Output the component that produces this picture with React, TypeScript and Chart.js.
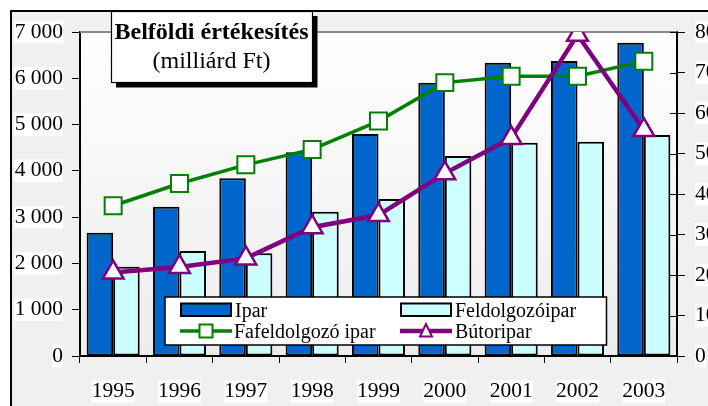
import { useEffect, useRef } from 'react';
import { Chart, registerables } from 'chart.js';

Chart.register(...registerables);

const years = ['1995', '1996', '1997', '1998', '1999', '2000', '2001', '2002', '2003'];
const iparValues = [2664, 3225, 3839, 4400, 4796, 5904, 6336, 6373, 6768];
const feldolgozoValues = [1929, 2268, 2219, 3117, 3392, 4321, 4608, 4629, 4774];
const fafeldolgozoValues = [37.1, 42.6, 47.2, 51.0, 58.0, 67.5, 69.1, 69.1, 72.8];
const butorValues = [20.6, 22.0, 24.1, 31.8, 34.8, 45.1, 53.8, 79.3, 55.8];
const leftTickLabels = ['0', '1 000', '2 000', '3 000', '4 000', '5 000', '6 000', '7 000'];
const rightTickLabels = ['0', '10', '20', '30', '40', '50', '60', '70', '80'];
const titleLines = ['Belföldi értékesítés', '(milliárd Ft)'];
const seriesLabels = ['Ipar', 'Feldolgozóipar', 'Fafeldolgozó ipar', 'Bútoripar'];

const FONT = "'Liberation Serif', 'Times New Roman', serif";

const decorPlugin = {
  id: 'decor',
  beforeDraw(chart: any) {
    const ctx = chart.ctx;
    const w = chart.width;
    const h = chart.height;
    const { left, top, right, bottom } = chart.chartArea;
    ctx.save();
    ctx.fillStyle = '#ffffff';
    ctx.fillRect(0, 0, w, h);
    ctx.fillStyle = '#f0f0f0';
    ctx.fillRect(11, 11, w, h);
    const grad = ctx.createLinearGradient(0, top, 0, bottom);
    grad.addColorStop(0, '#ffffff');
    grad.addColorStop(1, '#ececec');
    ctx.fillStyle = grad;
    ctx.fillRect(left, top, right - left, bottom - top);
    ctx.strokeStyle = '#000';
    ctx.lineWidth = 2;
    ctx.beginPath();
    ctx.moveTo(11, h);
    ctx.lineTo(11, 11);
    ctx.lineTo(w, 11);
    ctx.stroke();
    ctx.restore();
  },
  beforeDatasetsDraw(chart: any) {
    const ctx = chart.ctx;
    const { left, top, right } = chart.chartArea;
    ctx.save();
    ctx.strokeStyle = '#8a8a8a';
    ctx.lineWidth = 2;
    ctx.beginPath();
    ctx.moveTo(left, top);
    ctx.lineTo(right, top);
    ctx.stroke();
    // inner half of the crossing ticks on the right axis
    const s = chart.scales.y1;
    ctx.strokeStyle = '#000';
    ctx.lineWidth = 1;
    s.ticks.forEach((t: any) => {
      const y = Math.round(s.getPixelForValue(t.value)) + 0.5;
      ctx.beginPath();
      ctx.moveTo(right - 7, y);
      ctx.lineTo(right, y);
      ctx.stroke();
    });
    ctx.restore();
  },
  afterDraw(chart: any) {
    const ctx = chart.ctx;
    const ds = chart.data.datasets;
    ctx.save();
    // title box
    ctx.fillStyle = '#000';
    ctx.fillRect(116, 16, 201.5, 71.5);
    ctx.fillStyle = '#fff';
    ctx.fillRect(111, 11, 201.5, 71.5);
    ctx.strokeStyle = '#000';
    ctx.lineWidth = 1.2;
    ctx.strokeRect(111.5, 11.5, 201, 71);
    ctx.fillStyle = '#000';
    ctx.textAlign = 'center';
    ctx.textBaseline = 'alphabetic';
    ctx.font = `bold 24px ${FONT}`;
    ctx.fillText(titleLines[0], 211.5, 38.5);
    ctx.font = `24px ${FONT}`;
    ctx.fillText(titleLines[1], 211.5, 67.5);

    // legend
    ctx.fillStyle = '#fff';
    ctx.fillRect(165, 297, 441.5, 48);
    ctx.strokeStyle = '#000';
    ctx.lineWidth = 1.5;
    ctx.strokeRect(165, 297, 441.5, 48);
    ctx.font = `20px ${FONT}`;
    ctx.textAlign = 'left';
    const barSample = (d: any, x: number) => {
      ctx.fillStyle = d.backgroundColor;
      ctx.fillRect(x, 303.5, 50, 12.5);
      ctx.strokeStyle = d.borderColor;
      ctx.lineWidth = 2;
      ctx.strokeRect(x, 303.5, 50, 12.5);
      ctx.fillStyle = '#000';
      ctx.fillText(d.label, x + 54, 316.5);
    };
    barSample(ds[0], 181);
    barSample(ds[1], 401);
    const yL = 331;
    const f = ds[2];
    ctx.strokeStyle = f.borderColor;
    ctx.lineWidth = f.borderWidth;
    ctx.beginPath();
    ctx.moveTo(180, yL);
    ctx.lineTo(232, yL);
    ctx.stroke();
    ctx.fillStyle = '#fff';
    ctx.fillRect(199.5, yL - 6.5, 13, 13);
    ctx.lineWidth = 2;
    ctx.strokeRect(199.5, yL - 6.5, 13, 13);
    ctx.fillStyle = '#000';
    ctx.fillText(f.label, 234, 337.7);

    const b = ds[3];
    ctx.strokeStyle = b.borderColor;
    ctx.lineWidth = b.borderWidth;
    ctx.beginPath();
    ctx.moveTo(400, yL);
    ctx.lineTo(452, yL);
    ctx.stroke();
    ctx.fillStyle = '#fff';
    ctx.lineWidth = 2;
    ctx.beginPath();
    ctx.moveTo(426, 324);
    ctx.lineTo(432, 336.5);
    ctx.lineTo(420, 336.5);
    ctx.closePath();
    ctx.fill();
    ctx.stroke();
    ctx.fillStyle = '#000';
    ctx.fillText(b.label, 455, 337.7);
    ctx.restore();
  },
};

export default function App() {
  const ref = useRef<HTMLCanvasElement>(null);
  useEffect(() => {
    if (!ref.current) return;
    const tickFont = { family: FONT, size: 21.5, lineHeight: 1.05 };
    const chart = new Chart(ref.current, {
      type: 'bar',
      data: {
        labels: years,
        datasets: [
          {
            type: 'bar',
            label: seriesLabels[0],
            data: iparValues,
            backgroundColor: '#0066cc',
            borderColor: '#000000',
            borderWidth: 2,
            borderSkipped: false,
            yAxisID: 'y',
            order: 3,
            categoryPercentage: 0.8,
            barPercentage: 1.0,
          },
          {
            type: 'bar',
            label: seriesLabels[1],
            data: feldolgozoValues,
            backgroundColor: '#ccffff',
            borderColor: '#000000',
            borderWidth: 2,
            borderSkipped: false,
            yAxisID: 'y',
            order: 3,
            categoryPercentage: 0.8,
            barPercentage: 1.0,
          },
          {
            type: 'line',
            label: seriesLabels[2],
            data: fafeldolgozoValues,
            borderColor: '#008000',
            backgroundColor: '#ffffff',
            borderWidth: 3.5,
            pointStyle: 'rect',
            pointRadius: 12,
            pointBorderWidth: 2,
            pointBackgroundColor: '#ffffff',
            pointBorderColor: '#008000',
            tension: 0,
            yAxisID: 'y1',
            order: 2,
          },
          {
            type: 'line',
            label: seriesLabels[3],
            data: butorValues,
            borderColor: '#800080',
            backgroundColor: '#ffffff',
            borderWidth: 4.5,
            pointStyle: 'triangle',
            pointRadius: 12,
            pointBorderWidth: 2.5,
            pointBackgroundColor: '#ffffff',
            pointBorderColor: '#800080',
            tension: 0,
            yAxisID: 'y1',
            order: 1,
          },
        ] as any,
      },
      options: {
        responsive: false,
        animation: false,
        events: [],
        layout: { padding: { top: 32, left: 0, right: 0, bottom: 0 } },
        plugins: {
          legend: { display: false },
          title: { display: false },
          tooltip: { enabled: false },
        },
        scales: {
          x: {
            offset: true,
            grid: {
              offset: true,
              drawOnChartArea: false,
              drawTicks: true,
              tickLength: 7,
              color: '#000',
              lineWidth: 1,
            },
            border: { display: true, color: '#000', width: 2 },
            ticks: {
              font: tickFont,
              color: '#000',
              padding: 17,
              maxRotation: 0,
              autoSkip: false,
              showLabelBackdrop: true,
              backdropColor: '#ffffff',
              backdropPadding: 0,
            } as any,
            afterFit: (s: any) => {
              s.height = 64;
            },
          },
          y: {
            position: 'left',
            min: 0,
            max: 7000,
            grid: {
              drawOnChartArea: false,
              drawTicks: true,
              tickLength: 8,
              color: '#000',
              lineWidth: 1,
            },
            border: { display: true, color: '#000', width: 2 },
            ticks: {
              stepSize: 1000,
              font: tickFont,
              color: '#000',
              padding: 9,
              showLabelBackdrop: true,
              backdropColor: '#ffffff',
              backdropPadding: 0,
              callback: (_v: any, i: number) => leftTickLabels[i],
            } as any,
            afterFit: (s: any) => {
              s.width = 80;
            },
          },
          y1: {
            position: 'right',
            min: 0,
            max: 80,
            grid: {
              drawOnChartArea: false,
              drawTicks: true,
              tickLength: 8,
              color: '#000',
              lineWidth: 1,
            },
            border: { display: true, color: '#000', width: 2 },
            ticks: {
              stepSize: 10,
              font: tickFont,
              color: '#000',
              padding: 10,
              showLabelBackdrop: true,
              backdropColor: '#ffffff',
              backdropPadding: 0,
              callback: (_v: any, i: number) => rightTickLabels[i],
            } as any,
            afterFit: (s: any) => {
              s.width = 83;
            },
          },
        },
      },
      plugins: [decorPlugin],
    });
    return () => chart.destroy();
  }, []);

  return (
    <div
      style={{
        position: 'fixed',
        left: 0,
        top: 0,
        width: 708,
        height: 406,
        overflow: 'hidden',
        background: '#fff',
      }}
    >
      <canvas
        ref={ref}
        width={760}
        height={420}
        style={{ display: 'block', width: 760, height: 420 }}
      />
    </div>
  );
}
